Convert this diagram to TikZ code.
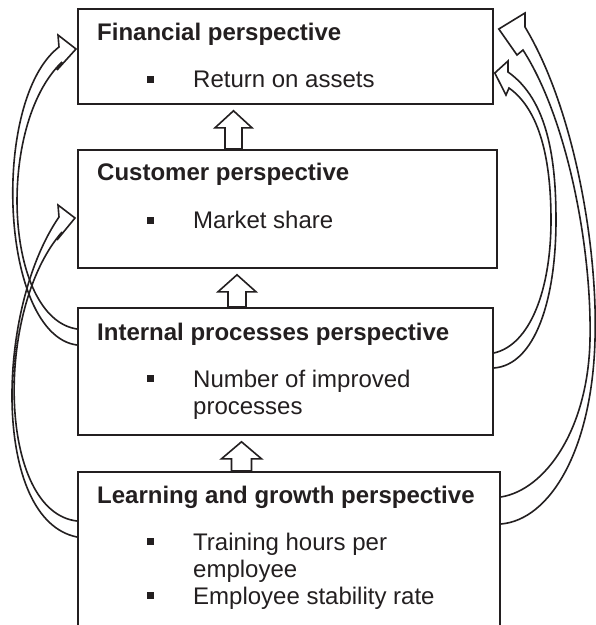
\documentclass[tikz,border=0pt]{standalone}
\usepackage{fontspec}
\setmainfont{Liberation Sans}
\usetikzlibrary{calc}
\definecolor{ink}{RGB}{35,31,32}
\begin{document}
\begin{tikzpicture}[x=1pt,y=-1pt,
  box/.style={draw=ink, line width=1.8pt, inner sep=0pt, anchor=north west},
  title/.style={anchor=base west, inner sep=0pt, font=\fontsize{24}{28}\selectfont\bfseries, text=ink},
  item/.style={anchor=base west, inner sep=0pt, font=\fontsize{24}{28}\selectfont, text=ink},
  bullet/.style={fill=ink, minimum size=7pt, inner sep=0pt},
  hollow/.style={draw=ink, line width=1.6pt, line join=miter, miter limit=4},
]
\useasboundingbox (0,0) rectangle (596,625);
\fill[white] (0,0) rectangle (596,625);
\clip (0,0) rectangle (596,625);

% the four perspective boxes
\node[box, minimum width=415pt, minimum height=95pt]  (fin) at (77,8) {};
\node[box, minimum width=419pt, minimum height=118pt] (cus) at (77,149) {};
\node[box, minimum width=415pt, minimum height=127pt] (inn) at (77,307) {};
\node[box, minimum width=422pt, minimum height=180pt] (lea) at (77,471) {};

% box contents
\node[title] (finT) at (97,40.5) {Financial perspective};
\node[bullet] (finB) at (150,79.5) {};
\node[item]  (finI) at (193,87.5) {Return on assets};

\node[title] (cusT) at (97,180) {Customer perspective};
\node[bullet] (cusB) at (150,220.5) {};
\node[item]  (cusI) at (193,228.5) {Market share};

\node[title] (innT) at (97,340) {Internal processes perspective};
\node[bullet] (innB) at (150,378.5) {};
\node[item]  (innI) at (193,387) {Number of improved};
\node[item]  (innJ) at (193,414) {processes};

\node[title] (leaT) at (97,503) {Learning and growth perspective};
\node[bullet] (leaB) at (150,541.5) {};
\node[item]  (leaI) at (193,550.5) {Training hours per};
\node[item]  (leaJ) at (193,577.5) {employee};
\node[bullet] (leaC) at (150,595.5) {};
\node[item]  (leaK) at (193,604) {Employee stability rate};

% hollow block arrows between neighbouring boxes
% #1 centre line, #2 upper box, #3 lower box, #4 half shaft, #5 half head
\newcommand\blockup[5]{%
  \draw[hollow] ($(#2.south -| #1)+(0,6)$) coordinate (#2tip)
    -- ++(#5,17) -- ++(#4-#5,0) -- ($(#3.north -| #1)+(#4,0)$)
    -- ($(#3.north -| #1)+(-#4,0)$) -- ($(#2tip)+(-#4,17)$)
    -- ++(#4-#5,0) -- cycle;}
\coordinate (ax1) at (233.5,0);
\coordinate (ax2) at (237,0);
\coordinate (ax3) at (241.5,0);
\blockup{ax1}{fin}{cus}{8.5}{18.5}
\blockup{ax2}{cus}{inn}{9}{19}
\blockup{ax3}{inn}{lea}{10}{20}

% feedback arrows, left side
\coordinate (L1i) at ($(inn.north west)+(0,22)$);
\coordinate (L1o) at ($(inn.north west)+(0,38)$);
\coordinate (L1t) at ($(fin.north west)+(-1,41)$);
\draw[hollow] (L1o) .. controls (0,335) and (-10,100) .. (59,47) -- (58,35) -- (L1t)
  -- (57,70) -- (62,62) .. controls (-4,125) and (4,318) .. (L1i);

\coordinate (L2i) at ($(lea.north west)+(0,50)$);
\coordinate (L2o) at ($(lea.north west)+(0,66)$);
\coordinate (L2t) at ($(cus.north west)+(-2,69)$);
\draw[hollow] (L2o) .. controls (-8,520) and (-5,310) .. (59,217) -- (58,205) -- (L2t)
  -- (57,240) -- (62,232) .. controls (-6,310) and (-2,512) .. (L2i);

% feedback arrows, right side
\coordinate (R1i) at ($(lea.north east)+(0,26)$);
\coordinate (R1o) at ($(lea.north east)+(0,53)$);
\coordinate (R1t) at ($(fin.north east)+(5,21)$);
\draw[hollow] (R1o) .. controls (550,520) and (592,450) .. (595,340)
  .. controls (598,250) and (575,110) .. (525,27) -- (525,13) -- (R1t)
  -- (517,55) -- (523,50) .. controls (568,120) and (592,250) .. (590,340)
  .. controls (588,430) and (545,490) .. (R1i);

\coordinate (R2i) at ($(inn.north east)+(0,46)$);
\coordinate (R2o) at ($(inn.north east)+(0,61)$);
\coordinate (R2t) at ($(fin.north east)+(1,65)$);
\draw[hollow] (R2o) .. controls (535,365) and (556,300) .. (556,220)
  .. controls (556,160) and (548,100) .. (508,72) -- (508,61) -- (R2t)
  -- (506,95) -- (509,88) .. controls (540,110) and (551,160) .. (551,220)
  .. controls (551,290) and (530,345) .. (R2i);
\end{tikzpicture}
\end{document}
